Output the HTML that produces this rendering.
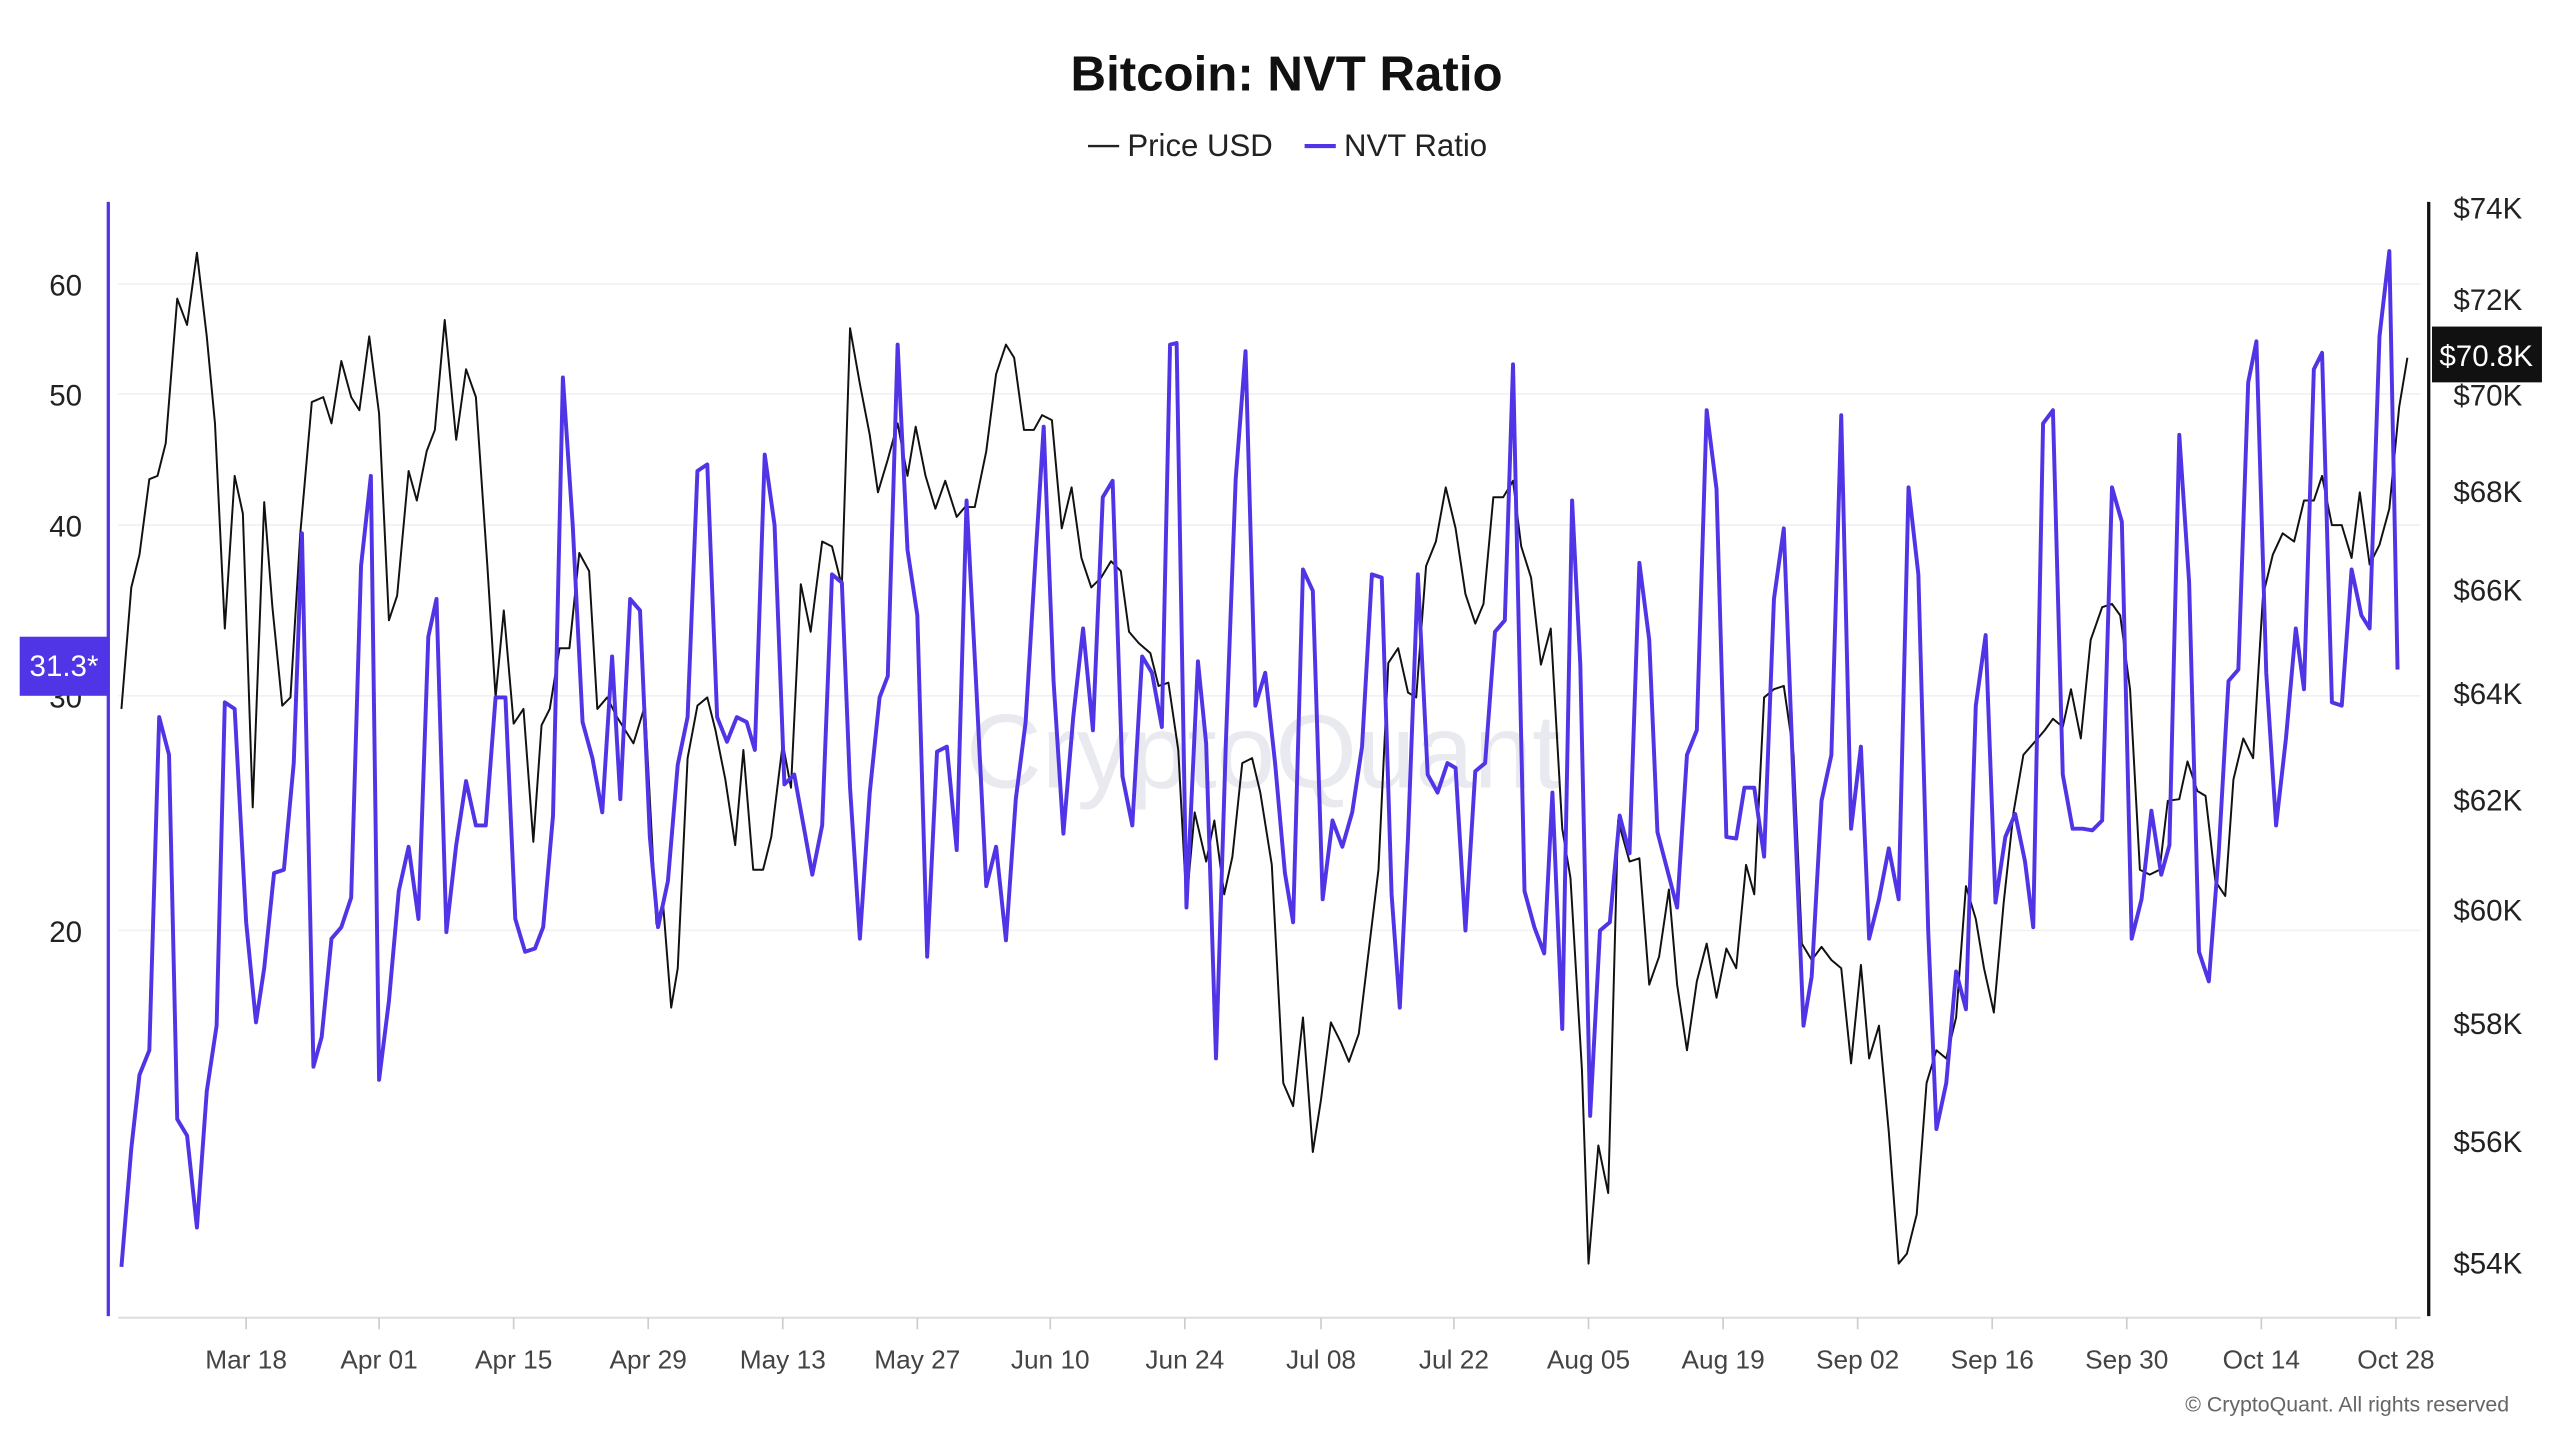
<!DOCTYPE html>
<html><head><meta charset="utf-8"><style>
html,body{margin:0;padding:0;background:#fff;}
svg{display:block;}
text{font-family:"Liberation Sans",sans-serif;}
</style></head><body>
<svg width="2560" height="1440" viewBox="0 0 1560 877.5" preserveAspectRatio="none" xmlns="http://www.w3.org/2000/svg">
<rect width="1560" height="877.5" fill="#fff"/>
<text x="784" y="55" text-anchor="middle" font-size="30" font-weight="bold" fill="#111">Bitcoin: NVT Ratio</text>
<line x1="663" y1="89" x2="682" y2="89" stroke="#222" stroke-width="1.5"/>
<text x="687" y="95" font-size="19" fill="#222">Price USD</text>
<line x1="795" y1="89" x2="814" y2="89" stroke="#4f35e6" stroke-width="2.5"/>
<text x="819" y="95" font-size="19" fill="#222">NVT Ratio</text>
<g stroke="#f1f1f4" stroke-width="1">
<line x1="72" y1="173" x2="1475" y2="173"/><line x1="72" y1="240" x2="1475" y2="240"/>
<line x1="72" y1="320" x2="1475" y2="320"/><line x1="72" y1="424" x2="1475" y2="424"/>
<line x1="72" y1="567" x2="1475" y2="567"/>
</g>
<text x="770" y="480" text-anchor="middle" font-size="64" fill="#e9e9f0">CryptoQuant</text>
<line x1="66" y1="123" x2="66" y2="802" stroke="#4f35e6" stroke-width="2"/>
<line x1="1480" y1="123" x2="1480" y2="802" stroke="#111" stroke-width="2"/>
<line x1="72" y1="803" x2="1475" y2="803" stroke="#ddd" stroke-width="1.2"/>
<g font-size="18" fill="#222" text-anchor="middle">
<text x="40" y="180">60</text><text x="40" y="247">50</text><text x="40" y="327">40</text><text x="40" y="431">30</text><text x="40" y="574">20</text>
</g>
<rect x="12" y="388" width="54" height="36" fill="#4f35e6"/>
<text x="39" y="412" text-anchor="middle" font-size="18" fill="#fff">31.3*</text>
<g font-size="18" fill="#222">
<text x="1495" y="133">$74K</text><text x="1495" y="189">$72K</text><text x="1495" y="247">$70K</text>
<text x="1495" y="306">$68K</text><text x="1495" y="366">$66K</text><text x="1495" y="429">$64K</text>
<text x="1495" y="494">$62K</text><text x="1495" y="561">$60K</text><text x="1495" y="630">$58K</text>
<text x="1495" y="702">$56K</text><text x="1495" y="776">$54K</text>
</g>
<rect x="1482" y="199" width="67" height="34" fill="#111"/>
<text x="1515" y="223" text-anchor="middle" font-size="18" fill="#fff">$70.8K</text>
<g stroke="#ccc" stroke-width="1">
<line x1="150" y1="803" x2="150" y2="810"/><line x1="231" y1="803" x2="231" y2="810"/><line x1="313" y1="803" x2="313" y2="810"/><line x1="395" y1="803" x2="395" y2="810"/><line x1="477" y1="803" x2="477" y2="810"/><line x1="559" y1="803" x2="559" y2="810"/><line x1="640" y1="803" x2="640" y2="810"/><line x1="722" y1="803" x2="722" y2="810"/><line x1="805" y1="803" x2="805" y2="810"/><line x1="886" y1="803" x2="886" y2="810"/><line x1="968" y1="803" x2="968" y2="810"/><line x1="1050" y1="803" x2="1050" y2="810"/><line x1="1132" y1="803" x2="1132" y2="810"/><line x1="1214" y1="803" x2="1214" y2="810"/><line x1="1296" y1="803" x2="1296" y2="810"/><line x1="1378" y1="803" x2="1378" y2="810"/><line x1="1460" y1="803" x2="1460" y2="810"/>
</g>
<g font-size="16" fill="#444" text-anchor="middle">
<text x="150" y="834">Mar 18</text><text x="231" y="834">Apr 01</text><text x="313" y="834">Apr 15</text><text x="395" y="834">Apr 29</text><text x="477" y="834">May 13</text><text x="559" y="834">May 27</text><text x="640" y="834">Jun 10</text><text x="722" y="834">Jun 24</text><text x="805" y="834">Jul 08</text><text x="886" y="834">Jul 22</text><text x="968" y="834">Aug 05</text><text x="1050" y="834">Aug 19</text><text x="1132" y="834">Sep 02</text><text x="1214" y="834">Sep 16</text><text x="1296" y="834">Sep 30</text><text x="1378" y="834">Oct 14</text><text x="1460" y="834">Oct 28</text>
</g>
<text x="1529" y="860" text-anchor="end" font-size="13" fill="#666">© CryptoQuant. All rights reserved</text>
<polyline fill="none" stroke="#111" stroke-width="1.2" stroke-linejoin="round" points="74,432 80,358 85,338 91,292 96,290 101,270 108,182 114,198 120,154 126,205 131,258 137,383 143,290 148,313 154,492 161,306 166,370 172,430 177,425 183,325 190,245 197,242 202,258 208,220 214,242 219,250 225,205 231,252 237,378 242,363 249,287 254,305 260,275 265,262 271,195 278,268 284,225 290,242 297,345 302,425 307,372 313,441 319,432 325,513 330,442 335,432 341,395 347,395 353,337 359,348 364,432 370,425 376,437 381,445 386,453 393,430 400,563 404,550 409,614 413,590 419,462 425,430 431,425 436,445 442,475 448,515 453,457 459,530 465,530 470,510 477,453 482,480 488,356 494,385 501,330 507,333 513,357 518,200 524,234 530,265 535,300 541,280 547,258 553,290 558,260 564,290 570,310 576,293 583,315 588,309 594,309 601,275 607,228 613,210 618,218 624,262 630,262 635,253 641,256 647,322 653,297 659,340 665,358 671,352 677,342 683,348 688,385 694,392 701,398 706,418 712,416 718,457 723,550 728,495 735,525 740,500 746,545 751,522 757,465 763,462 768,483 775,527 782,660 788,674 794,620 800,702 805,670 811,623 817,635 822,647 828,630 834,580 840,530 846,404 852,395 858,422 863,425 869,345 875,330 881,297 887,322 893,362 899,380 904,368 910,303 916,303 922,293 927,333 933,352 939,405 945,383 952,505 957,535 964,652 968,770 974,698 980,727 986,500 993,525 999,523 1005,600 1011,583 1017,542 1022,600 1028,640 1034,598 1040,575 1046,608 1052,578 1058,590 1064,527 1069,545 1075,425 1081,420 1087,418 1093,460 1098,575 1104,585 1110,577 1116,585 1122,590 1128,648 1134,588 1139,645 1145,625 1151,690 1157,770 1162,764 1168,740 1174,660 1180,640 1186,645 1192,620 1198,540 1204,560 1209,590 1215,617 1221,550 1227,495 1233,460 1240,452 1246,445 1251,438 1257,443 1262,420 1268,450 1274,390 1281,370 1287,368 1292,375 1298,420 1304,530 1310,533 1316,530 1321,488 1328,487 1333,464 1339,482 1344,485 1350,537 1356,546 1361,475 1367,450 1373,462 1379,363 1385,338 1391,325 1398,330 1404,305 1410,305 1415,290 1421,320 1427,320 1433,340 1438,300 1444,344 1450,332 1456,310 1462,248 1467,218"/>
<polyline fill="none" stroke="#4f35e6" stroke-width="2.4" stroke-linejoin="round" points="74,772 80,700 85,655 91,640 97,437 103,460 108,682 114,692 120,748 126,665 132,625 137,428 143,432 150,562 156,623 161,590 167,532 173,530 179,465 184,325 191,650 196,632 202,572 208,565 214,547 220,345 226,290 231,658 237,610 243,543 249,516 255,560 261,388 266,365 272,568 278,515 284,476 290,503 296,503 302,425 308,425 314,560 320,580 326,578 331,565 337,497 343,230 349,320 355,440 361,462 367,495 373,400 378,487 384,365 390,372 396,510 401,565 407,537 413,466 419,437 425,287 431,283 437,437 443,452 449,437 455,440 460,457 466,277 472,320 478,478 484,472 490,505 495,533 501,503 507,350 513,355 518,480 524,572 530,483 536,425 541,412 547,210 553,335 559,375 565,583 571,458 577,455 583,518 589,305 595,420 601,540 607,516 613,573 619,487 625,440 631,340 636,260 642,415 648,508 654,437 660,383 666,445 672,303 678,293 684,473 690,503 696,400 702,410 708,443 713,210 717,209 723,553 730,403 735,453 741,645 747,453 753,292 759,214 765,430 771,410 777,465 783,532 788,562 794,347 800,360 806,548 812,500 818,516 824,495 830,455 836,350 842,352 848,545 853,614 858,510 864,350 870,472 876,483 882,465 887,468 893,567 899,470 905,465 911,385 917,378 922,222 929,543 935,565 941,581 946,483 952,627 958,305 963,405 969,680 975,567 981,562 987,497 993,520 999,343 1005,390 1010,507 1016,530 1022,553 1028,460 1034,445 1040,250 1046,298 1052,510 1058,511 1063,480 1069,480 1075,522 1081,365 1087,322 1093,480 1099,625 1104,595 1110,488 1116,460 1122,253 1128,505 1134,455 1139,572 1145,548 1151,517 1157,548 1163,297 1169,350 1175,567 1180,688 1186,660 1192,592 1198,615 1204,430 1210,387 1216,550 1222,510 1228,496 1234,525 1239,565 1245,258 1251,250 1257,472 1263,505 1269,505 1275,506 1281,500 1287,297 1293,318 1299,572 1305,548 1311,494 1317,533 1322,515 1328,265 1334,355 1340,580 1346,598 1352,520 1358,415 1364,408 1370,233 1375,208 1381,410 1387,503 1393,450 1399,383 1404,420 1410,225 1415,215 1421,428 1427,430 1433,347 1439,375 1444,383 1450,205 1456,153 1461,408"/>
</svg>
</body></html>
